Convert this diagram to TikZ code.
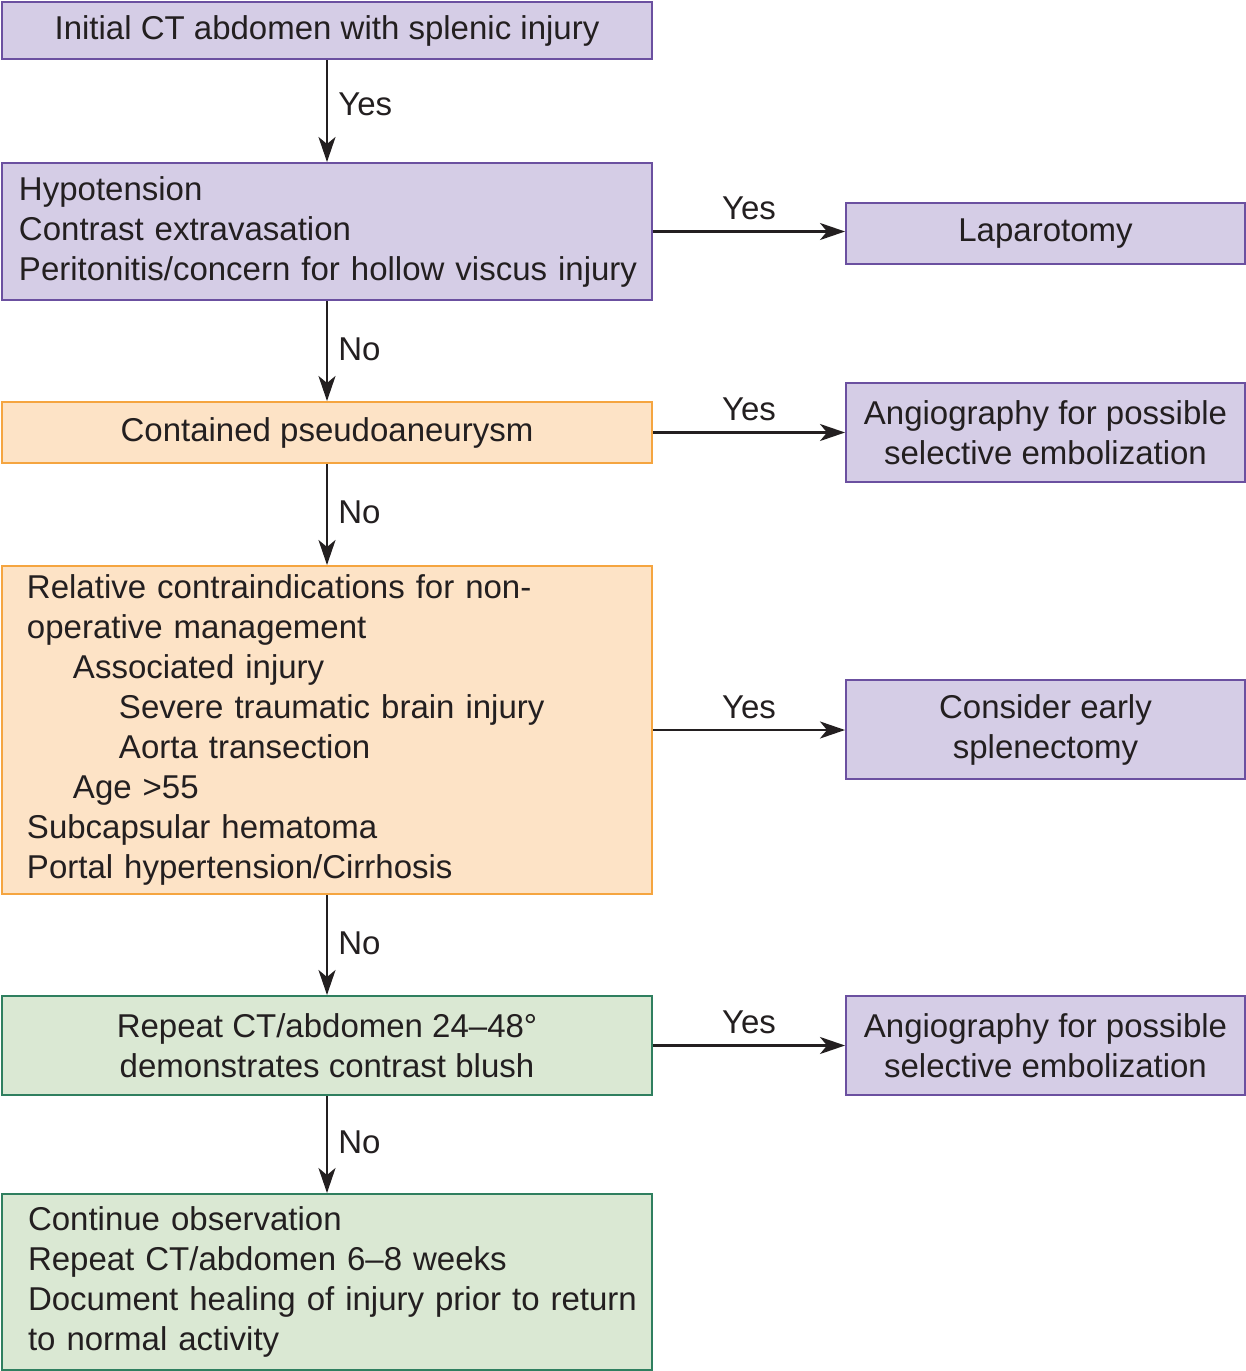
\documentclass[tikz,border=0pt]{standalone}
\usepackage{fontspec}
\setmainfont{Liberation Sans}
\usetikzlibrary{arrows.meta}
\definecolor{pfill}{HTML}{D5CDE6}
\definecolor{pline}{HTML}{6B50A0}
\definecolor{ofill}{HTML}{FDE3C6}
\definecolor{oline}{HTML}{F5A540}
\definecolor{gfill}{HTML}{DAE8D3}
\definecolor{gline}{HTML}{2F7F5F}
\definecolor{ink}{HTML}{231F20}
\newcommand\boxfont{\fontsize{33pt}{40pt}\selectfont}
\begin{document}
\begin{tikzpicture}[x=1pt,y=-1pt,
  box/.style={rectangle, draw, line width=2pt, anchor=north west, inner ysep=0pt, text=ink, font=\boxfont},
  pbox/.style={box, fill=pfill, draw=pline},
  obox/.style={box, fill=ofill, draw=oline},
  gbox/.style={box, fill=gfill, draw=gline},
  arr/.style={draw=ink, line width=2.5pt, -{Stealth[length=25pt,width=17pt,inset=7pt]}},
  lab/.style={font=\boxfont, text=ink, inner sep=0pt},
  vlab/.style={lab, anchor=west, xshift=10pt, yshift=2pt},
  hlab/.style={lab, anchor=south, yshift=10pt}]
\useasboundingbox (0,0) rectangle (1246,1371);
\fill[white] (0,0) rectangle (1246,1371);

% left column
\node[pbox, minimum width=650pt, minimum height=57pt, align=center] (b1) at (1,1) {Initial CT abdomen with splenic injury};
\node[pbox, minimum width=650pt, minimum height=137pt, text width=616pt, inner xsep=17pt, align=left] (b2) at (1,162)
  {Hypotension\\Contrast extravasation\\\mbox{Peritonitis/concern for hollow viscus injury}};
\node[obox, minimum width=650pt, minimum height=61pt, align=center] (b3) at (1,401) {Contained pseudoaneurysm};
\node[obox, minimum width=650pt, minimum height=328pt, text width=600pt, inner xsep=25pt, align=left] (b4) at (1,565)
  {Relative contraindications for non-\\operative management\\\hspace*{46pt}Associated injury\\\hspace*{92pt}Severe traumatic brain injury\\\hspace*{92pt}Aorta transection\\\hspace*{46pt}Age >55\\Subcapsular hematoma\\Portal hypertension/Cirrhosis};
\node[gbox, minimum width=650pt, minimum height=99pt, align=center] (b5) at (1,995) {Repeat CT/abdomen 24–48°\\demonstrates contrast blush};
\node[gbox, minimum width=650pt, minimum height=176pt, text width=598pt, inner xsep=26pt, align=left] (b6) at (1,1193)
  {Continue observation\\Repeat CT/abdomen 6–8 weeks\\\mbox{Document healing of injury prior to return}\\to normal activity};

% right column
\node[pbox, minimum width=399pt, minimum height=61pt, align=center] (r1) at (845,202) {Laparotomy};
\node[pbox, minimum width=399pt, minimum height=99pt, align=center] (r2) at (845,382) {Angiography for possible\\selective embolization};
\node[pbox, minimum width=399pt, minimum height=99pt, align=center] (r3) at (845,679) {Consider early\\splenectomy};
\node[pbox, minimum width=399pt, minimum height=99pt, align=center] (r4) at (845,995) {Angiography for possible\\selective embolization};

% vertical connectors
\draw[arr] (b1.south) -- node[vlab, pos=0.45] {Yes} (b2.north);
\draw[arr] (b2.south) -- node[vlab, pos=0.5] {No} (b3.north);
\draw[arr] (b3.south) -- node[vlab, pos=0.5] {No} (b4.north);
\draw[arr] (b4.south) -- node[vlab, pos=0.5] {No} (b5.north);
\draw[arr] (b5.south) -- node[vlab, pos=0.5] {No} (b6.north);

% horizontal connectors
\draw[arr] (b2.east) -- node[hlab] {Yes} (b2.east -| r1.west);
\draw[arr] (b3.east) -- node[hlab] {Yes} (b3.east -| r2.west);
\draw[arr] (b4.east) -- node[hlab] {Yes} (b4.east -| r3.west);
\draw[arr] (b5.east) -- node[hlab] {Yes} (b5.east -| r4.west);
\end{tikzpicture}
\end{document}
